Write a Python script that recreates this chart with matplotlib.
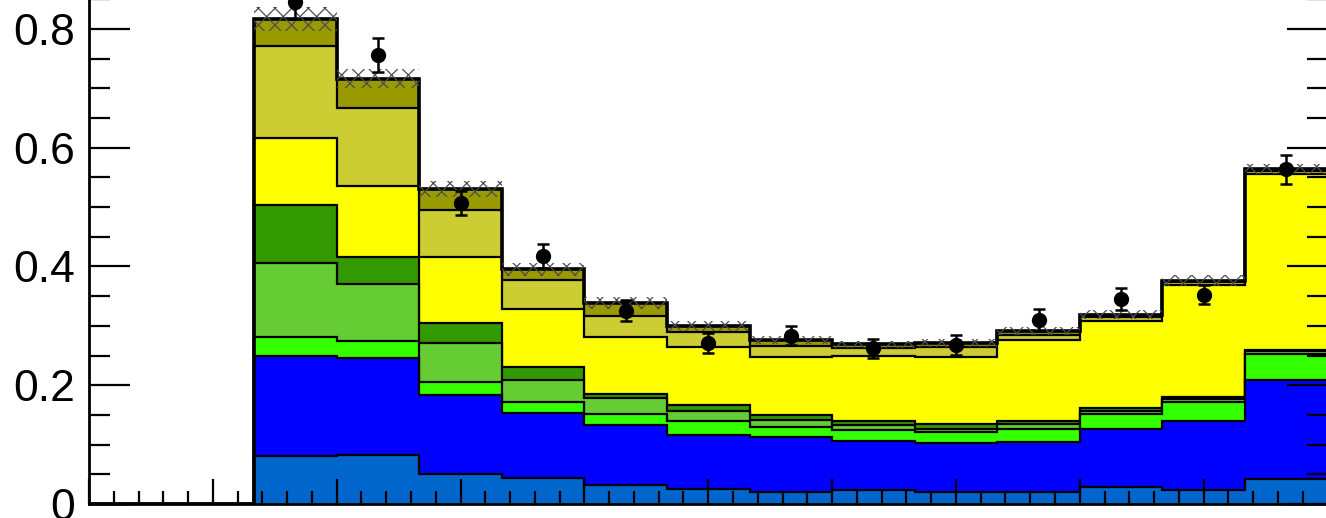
import numpy as np
import matplotlib
matplotlib.use("Agg")
import matplotlib.pyplot as plt
from matplotlib.ticker import MultipleLocator, FuncFormatter

plt.rcParams['font.family'] = ['Liberation Sans', 'DejaVu Sans']
plt.rcParams['hatch.linewidth'] = 0.9

# 15 bins, the first two are empty
edges = np.arange(0, 16)

# per-component contributions, bottom of the stack first
comp_colors = ['#0066CC', '#0000FF', '#33FF00', '#66CC33',
               '#339900', '#FFFF00', '#CCCC33', '#999900']
c1 = [0, 0, 0.080, 0.083, 0.051, 0.043, 0.032, 0.026, 0.021, 0.023, 0.021, 0.021, 0.028, 0.024, 0.042]
c2 = [0, 0, 0.169, 0.163, 0.133, 0.110, 0.101, 0.090, 0.092, 0.083, 0.081, 0.084, 0.099, 0.115, 0.166]
c3 = [0, 0, 0.032, 0.028, 0.022, 0.018, 0.019, 0.023, 0.016, 0.018, 0.019, 0.022, 0.024, 0.032, 0.044]
c4 = [0, 0, 0.124, 0.096, 0.065, 0.037, 0.026, 0.018, 0.012, 0.009, 0.006, 0.007, 0.006, 0.005, 0.005]
c5 = [0, 0, 0.098, 0.046, 0.034, 0.022, 0.008, 0.009, 0.009, 0.007, 0.008, 0.006, 0.004, 0.004, 0.003]
c6 = [0, 0, 0.113, 0.120, 0.110, 0.099, 0.095, 0.099, 0.098, 0.109, 0.113, 0.136, 0.147, 0.189, 0.296]
c7 = [0, 0, 0.155, 0.130, 0.080, 0.048, 0.035, 0.025, 0.018, 0.013, 0.016, 0.009, 0.006, 0.004, 0.004]
c8 = [0, 0, 0.045, 0.050, 0.035, 0.018, 0.022, 0.010, 0.010, 0.007, 0.007, 0.006, 0.005, 0.003, 0.004]
components = [c1, c2, c3, c4, c5, c6, c7, c8]

# uncertainty on the total
syst = [0, 0, 0.020, 0.016, 0.013, 0.011, 0.010, 0.008, 0.007, 0.006, 0.006, 0.007, 0.008, 0.009, 0.009]

# data points (filled bins only)
data_bins = np.arange(2, 15)
data = [0.845, 0.756, 0.507, 0.4175, 0.3255, 0.2705, 0.2834, 0.262, 0.2677, 0.3098, 0.345, 0.352, 0.5635]
data_err = [0.028, 0.028, 0.020, 0.020, 0.018, 0.017, 0.016, 0.016, 0.017, 0.018, 0.019, 0.016, 0.024]

W, H = 1326, 518
fig = plt.figure(figsize=(W / 100, H / 100), dpi=100)
y_top = 0.95
px0, px1 = 89, 1327.5
py0 = 504
ax_h = y_top * 594 / H
ax = fig.add_axes([px0 / W, (H - py0) / H, (px1 - px0) / W, ax_h])

cum = np.cumsum(np.array(components), axis=0)
total = cum[-1]

# draw like a stack: tallest first, each filled from zero
for k in range(len(components) - 1, -1, -1):
    ax.stairs(cum[k], edges, baseline=0, fill=True,
              facecolor=comp_colors[k], edgecolor='k', linewidth=1.6)

ax.stairs(total, edges, baseline=None, color='k', linewidth=2.6)

syst = np.array(syst)
ax.stairs(total + syst, edges, baseline=total - syst, fill=True,
          facecolor='none', edgecolor='#4d4d4d', hatch='xx', linewidth=0)

centers = data_bins + 0.5
ax.errorbar(centers, data, yerr=data_err, fmt='o', color='k', ms=10,
            elinewidth=1.8, capsize=4, capthick=1.8, zorder=5)

ax.set_xlim(0, 15)
ax.set_ylim(0, y_top)

ax.xaxis.set_major_locator(MultipleLocator(1.5))
ax.xaxis.set_minor_locator(MultipleLocator(0.3))
ax.yaxis.set_major_locator(MultipleLocator(0.2))
ax.yaxis.set_minor_locator(MultipleLocator(0.05))
ax.yaxis.set_major_formatter(FuncFormatter(lambda v, p: '%g' % round(v, 2)))

ax.tick_params(axis='both', which='both', direction='in', width=1.6,
               top=True, right=True, colors='k')
ax.tick_params(axis='y', which='major', length=29.5, labelsize=32, pad=10)
ax.tick_params(axis='y', which='minor', length=15)
ax.tick_params(axis='x', which='major', length=18, labelbottom=False)
ax.tick_params(axis='x', which='minor', length=9.4)

for s in ax.spines.values():
    s.set_linewidth(2.0)
    s.set_zorder(6)

fig.savefig('out.png', dpi=100)
